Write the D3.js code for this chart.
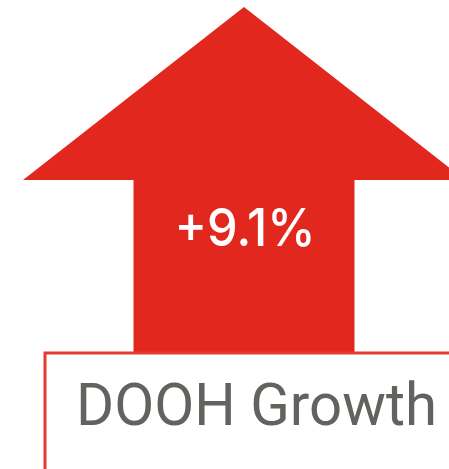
<!DOCTYPE html>
<html>
<head>
<meta charset="utf-8">
<script src="https://cdn.jsdelivr.net/npm/d3@7"></script>
<style>
  html, body { margin: 0; padding: 0; background: #fff; }
  svg { display: block; }
</style>
</head>
<body>
<svg id="chart"></svg>
<script>
// Data:
var labels = ["DOOH Growth"];
var values = [9.1];

// Layout:
var width = 449;
var height = 469;

var svg = d3.select("#chart")
    .attr("width", width)
    .attr("height", height);

// Scales for the arrow (unit shape -> pixels):
var xScale = d3.scaleLinear()
    .domain([-1, 1])
    .range([23, 465]);

var yScale = d3.scaleLinear()
    .domain([0, 1])
    .range([352, 7]);

// arrow outline in unit coords: head half width 1, shaft half width 0.5
var headBase = (352 - 180) / 345;
var arrowPts = [
    [-0.5, 0], [-0.5, headBase], [-1, headBase], [0, 1],
    [1, headBase], [0.5, headBase], [0.5, 0]
];

var line = d3.line()
    .x(function (d) { return xScale(d[0]); })
    .y(function (d) { return yScale(d[1]); });

svg.append("path")
    .datum(arrowPts)
    .attr("fill", "#e1271e")
    .attr("d", function (d) { return line(d) + "Z"; });

// Value label:
svg.selectAll(".value")
    .data(values)
    .enter()
    .append("text")
    .attr("class", "value")
    .attr("x", xScale(0.005))
    .attr("y", 246)
    .attr("text-anchor", "middle")
    .attr("fill", "#fff")
    .attr("font-family", "Inter, Liberation Sans, sans-serif")
    .attr("font-weight", 500)
    .attr("font-size", 52)
    .attr("textLength", 141)
    .attr("lengthAdjust", "spacingAndGlyphs")
    .text(function (d) { return (d > 0 ? "+" : "") + d3.format(".1f")(d) + "%"; });

// Label box: top and left red rules
svg.append("path")
    .attr("fill", "none")
    .attr("stroke", "#e53b31")
    .attr("stroke-width", 3)
    .attr("d", "M45," + height + "V353H" + width);

svg.selectAll(".label")
    .data(labels)
    .enter()
    .append("text")
    .attr("class", "label")
    .attr("x", 76)
    .attr("y", 425)
    .attr("fill", "#62635e")
    .attr("font-family", "Roboto, sans-serif")
    .attr("font-size", 60)
    .attr("textLength", 361)
    .attr("lengthAdjust", "spacingAndGlyphs")
    .text(function (d) { return d; });
</script>
</body>
</html>
